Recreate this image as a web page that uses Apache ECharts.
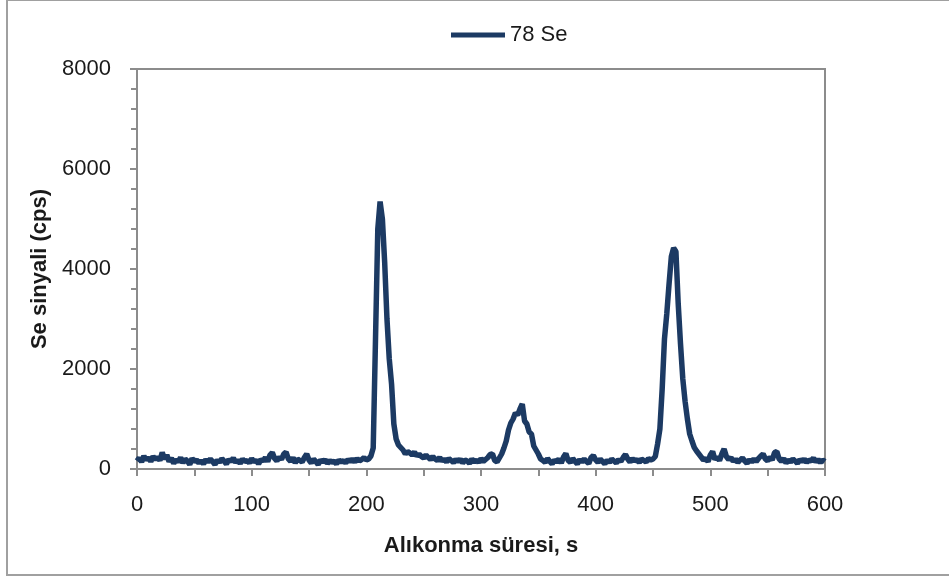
<!DOCTYPE html>
<html>
<head>
<meta charset="utf-8">
<script src="https://cdn.jsdelivr.net/npm/echarts@6/dist/echarts.min.js"></script>
<style>
    html, body { margin: 0; padding: 0; background: #fff; }
    #chart { width: 949px; height: 580px; }
</style>
</head>
<body>
<div id="chart"></div>
<script>
    // zaman adimi (s) ve okunan sinyal degerleri (cps)
    var timeStep = 2;
    var seSignal = [
        160, 220, 140, 260, 180, 230, 150, 250, 190, 240,
        170, 330, 200, 280, 150, 220, 110, 190, 140, 230,
        120, 200, 160, 90, 210, 150, 180, 120, 170, 100,
        190, 140, 200, 150, 90, 180, 130, 210, 160, 100,
        190, 150, 220, 130, 180, 110, 200, 150, 170, 120,
        210, 140, 180, 100, 190, 160, 230, 150, 280, 330,
        210, 160, 240, 190, 300, 340, 200, 150, 230, 120,
        200, 170, 140, 230, 300, 180, 120, 200, 150, 90,
        180, 140, 190, 110, 170, 130, 160, 100, 180, 140,
        170, 120, 190, 150, 200, 140, 210, 160, 190, 230,
        180, 200, 260, 420, 2600, 4800, 5350, 5000, 4130, 3000,
        2200, 1700, 900, 600, 480, 430, 380, 300, 350, 320,
        280, 340, 260, 300, 250, 220, 280, 230, 190, 250,
        200, 170, 230, 160, 200, 140, 210, 170, 130, 190,
        150, 200, 120, 180, 160, 110, 200, 140, 180, 130,
        210, 150, 190, 230, 290, 300, 170, 140, 220, 300,
        420, 560, 780, 920, 1000, 1120, 1080, 1200, 1300, 960,
        900, 740, 700, 460, 380, 300, 200, 170, 130, 210,
        150, 100, 180, 140, 200, 120, 240, 310, 170, 130,
        210, 150, 100, 190, 140, 200, 150, 110, 230, 270,
        180, 130, 200, 150, 100, 180, 130, 200, 160, 120,
        190, 150, 230, 290, 200, 140, 210, 160, 190, 130,
        200, 170, 140, 210, 180, 200, 250, 500, 800, 1600,
        2600, 3100, 3700, 4250, 4420, 4350, 3300, 2500, 1800, 1350,
        1000, 700, 560, 430, 360, 300, 240, 180, 210, 150,
        280, 350, 190, 240, 170, 300, 400, 250, 190, 230,
        150, 200, 130, 180, 220, 160, 110, 190, 140, 200,
        150, 210, 260, 300, 200, 160, 240, 180, 330, 350,
        200, 150, 210, 120, 180, 140, 200, 160, 110, 190,
        150, 200, 130, 180, 160, 220, 140, 190, 130, 180,
        150
    ];
    var seriesName = "78 Se";
    var xTitle = "Alıkonma süresi, s";
    var yTitle = "Se sinyali (cps)";

    var lineData = [];
    seSignal.forEach(function (v, i) {
        lineData.push([i * timeStep, v]);
    });

    var fontName = "Liberation Sans";
    var textColor = "#1a1a1a";
    var axisGray = "#8c8c8c";
    var lineColor = "#1c3a63";

    var chart = echarts.init(document.getElementById("chart"));
    chart.setOption({
        animation: false,
        backgroundColor: "#fff",
        textStyle: {fontFamily: fontName},
        graphic: [{
            type: "rect",
            shape: {x: 7, y: 0, width: 960, height: 575},
            style: {fill: "none", stroke: "#a0a0a0", lineWidth: 2}
        }],
        legend: {
            top: 19,
            left: 446,
            icon: "rect",
            itemWidth: 54,
            itemHeight: 5,
            itemGap: 4,
            textStyle: {fontSize: 22, color: textColor, fontFamily: fontName},
            data: [seriesName]
        },
        grid: {
            left: 137, right: 124, top: 69, bottom: 111,
            show: true, borderColor: axisGray, borderWidth: 2
        },
        xAxis: {
            type: "value",
            min: 0, max: 600, interval: 100,
            name: xTitle,
            nameLocation: "middle",
            nameGap: 66,
            nameTextStyle: {fontSize: 22, fontWeight: "bold", color: textColor, fontFamily: fontName},
            axisLine: {lineStyle: {color: axisGray, width: 2}},
            axisTick: {show: true, length: 7, lineStyle: {color: axisGray, width: 2}},
            minorTick: {show: true, splitNumber: 2, length: 7, lineStyle: {color: axisGray, width: 2}},
            axisLabel: {fontSize: 22, color: textColor, margin: 25},
            splitLine: {show: false}
        },
        yAxis: {
            type: "value",
            min: 0, max: 8000, interval: 2000,
            name: yTitle,
            nameLocation: "middle",
            nameGap: 86,
            nameTextStyle: {fontSize: 22, fontWeight: "bold", color: textColor, fontFamily: fontName},
            axisLine: {show: true, lineStyle: {color: axisGray, width: 2}},
            axisTick: {show: true, length: 7, lineStyle: {color: axisGray, width: 2}},
            minorTick: {show: true, splitNumber: 5, length: 6, lineStyle: {color: axisGray, width: 2}},
            axisLabel: {
                fontSize: 22, color: textColor, margin: 26,
                formatter: function (v) { return String(v); }
            },
            splitLine: {show: false}
        },
        series: [{
            name: seriesName,
            type: "line",
            data: lineData,
            showSymbol: false,
            symbol: "none",
            lineStyle: {color: lineColor, width: 5.5},
            itemStyle: {color: lineColor}
        }]
    });
</script>
</body>
</html>
